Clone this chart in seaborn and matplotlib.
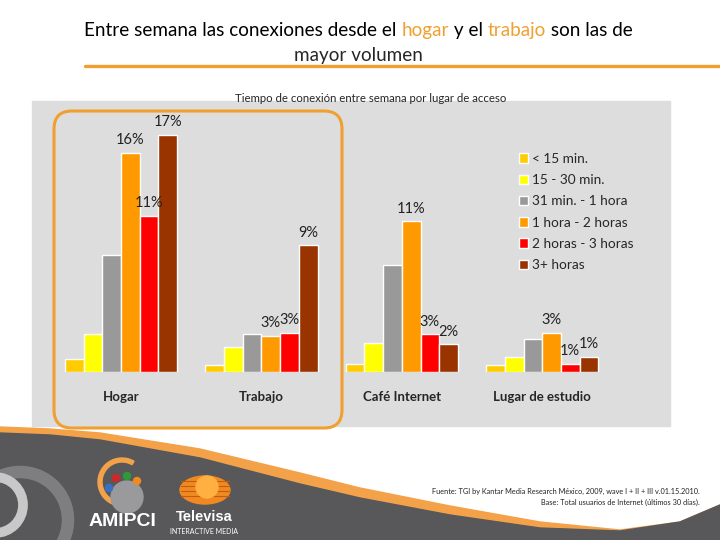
import numpy as np
import pandas as pd
import matplotlib
matplotlib.use("Agg")
import matplotlib.pyplot as plt
import seaborn as sns
from matplotlib.patches import Rectangle, FancyBboxPatch, Polygon, Circle, Ellipse, Wedge

# -------------------------------
# Data
# -------------------------------
lugares = ["Hogar", "Trabajo", "Café Internet", "Lugar de estudio"]
tiempos = ["< 15 min.", "15 - 30 min.", "31 min. - 1 hora",
           "1 hora - 2 horas", "2 horas - 3 horas", "3+ horas"]
menos_15 = [0.9, 0.5, 0.6, 0.5]
de_15_30 = [2.7, 1.8, 2.1, 1.1]
de_31_1h = [8.4, 2.7, 7.7, 2.4]
de_1h_2h = [15.7, 2.6, 10.8, 2.8]
de_2h_3h = [11.2, 2.8, 2.7, 0.6]
mas_3h = [17.0, 9.1, 2.0, 1.1]
colores = ["#FFCC00", "#FFFF00", "#999999", "#FF9900", "#FF0000", "#993300"]
con_etiqueta = ["1 hora - 2 horas", "2 horas - 3 horas", "3+ horas"]

titulo_partes = [("Entre semana las conexiones desde el ", "black"),
                 ("hogar", "#F0A030"), (" y el ", "black"),
                 ("trabajo", "#F0A030"), (" son las de", "black")]
subtitulo = "Tiempo de conexión entre semana por lugar de acceso"
fuente = ["Fuente: TGI by Kantar Media Research México, 2009, wave I + II + III v.01.15.2010.",
          "Base: Total usuarios de Internet (últimos 30 días)."]

series = [menos_15, de_15_30, de_31_1h, de_1h_2h, de_2h_3h, mas_3h]
df = pd.DataFrame({
    "lugar": np.repeat([lugares], len(tiempos), axis=0).ravel(),
    "tiempo": np.repeat(tiempos, len(lugares)),
    "valor": np.concatenate(series),
})

sns.set_style("white")
plt.rcParams["font.family"] = ["Lato", "DejaVu Sans"]

W, H = 720, 540
fig = plt.figure(figsize=(7.2, 5.4), dpi=100)

# -------------------------------
# Background / decorations in pixel coords
# -------------------------------
bg = fig.add_axes([0, 0, 1, 1])
bg.set_xlim(0, W)
bg.set_ylim(H, 0)
bg.axis("off")

bg.add_patch(Rectangle((32, 101), 638, 325, color="#DDDDDD", zorder=1))
bg.add_patch(FancyBboxPatch((54, 111), 288, 317,
                            boxstyle="round,pad=0,rounding_size=18",
                            fill=False, ec="#F0A030", lw=2.2, zorder=3))
bg.plot([85, 720], [66, 66], color="#F0A030", lw=2.4, zorder=2)

# footer wave
xs = [0, 50, 100, 200, 300, 360, 450, 540, 620, 680, 720]
top_or = [427, 429, 433, 449, 473, 488, 506, 522, 530, 522, 505]
top_dk = [433, 435, 440, 458, 484, 498, 515, 528, 531, 522, 505]
bg.add_patch(Polygon(list(zip(xs, top_or)) + [(720, 540), (0, 540)],
                     closed=True, color="#F4A24A", zorder=1))
bg.add_patch(Polygon(list(zip(xs, top_dk)) + [(720, 540), (0, 540)],
                     closed=True, color="#58585A", zorder=1))
bg.add_patch(Circle((20, 520), 48, fill=False, ec="#7E7E80", lw=9, zorder=2))
bg.add_patch(Circle((-5, 505), 28, fill=False, ec="#C8C8C8", lw=7, zorder=2))

# AMIPCI logo
bg.add_patch(Wedge((122, 482), 24, 40, 300, width=4, color="#F4A24A", zorder=2))
bg.add_patch(Circle((127, 497), 16, color="#9A9A9C", zorder=2))
for (cx, cy, c) in [(109, 488, "#3A6FC8"), (116, 478, "#D02828"),
                    (127, 476, "#2E9A3A"), (137, 481, "#F08A20")]:
    bg.add_patch(Circle((cx, cy), 3.5, color=c, zorder=3))
bg.text(122, 522, "AMIPCI", color="white", fontsize=14, fontweight="bold",
        ha="center", va="center", family="Liberation Sans", zorder=3)

# Televisa logo
bg.add_patch(Ellipse((205, 490), 50, 28, color="#F08A20", zorder=2))
for yy in [481, 486, 491, 496]:
    bg.plot([181, 229], [yy, yy], color="#C85A10", lw=0.8, zorder=3)
bg.add_patch(Circle((207, 487), 11, color="#FFB040", zorder=4))
bg.text(204, 517, "Televisa", color="white", fontsize=10.5, fontweight="bold",
        ha="center", va="center", family="Liberation Sans", zorder=3)
bg.text(204, 531, "INTERACTIVE MEDIA", color="white", fontsize=5,
        ha="center", va="center", zorder=3)

# footnotes
bg.text(700, 491, fuente[0], fontsize=5.3, ha="right", va="center", color="#222222")
bg.text(700, 502, fuente[1], fontsize=5.3, ha="right", va="center", color="#222222")

# -------------------------------
# Titles (first line has two words in orange)
# -------------------------------
prev = fig.text(84 / W, 1 - 36 / H, titulo_partes[0][0], color=titulo_partes[0][1],
                fontsize=13.6, va="baseline", ha="left")
for texto, color in titulo_partes[1:]:
    prev = fig.add_artist(matplotlib.text.Annotation(
        texto, xy=(1, 0), xycoords=prev, va="bottom", ha="left",
        color=color, fontsize=13.6))
fig.text(358 / W, 1 - 55 / H, "mayor volumen", fontsize=13.6, ha="center", va="center")
fig.text(371 / W, 1 - 99 / H, subtitulo, fontsize=8.2, ha="center", va="center")

# -------------------------------
# Bar chart
# -------------------------------
ax = fig.add_axes([32 / W, 1 - 372 / H, 638 / W, 272 / H])
ax.set_facecolor("none")
ax.set_zorder(5)
sns.barplot(data=df, x="lugar", y="valor", hue="tiempo", order=lugares,
            hue_order=tiempos, palette=colores, saturation=1, width=0.8,
            ax=ax)
ax.set_xlim(-0.634, 3.91)
ax.set_ylim(0, 19.5)
for nombre, cont in zip(tiempos, ax.containers):
    if nombre in con_etiqueta:
        ax.bar_label(cont, labels=[f"{round(v)}%" for v in cont.datavalues],
                     padding=4, fontsize=10.5, color="#222222")
ax.set_xlabel("")
ax.set_ylabel("")
ax.set_yticks([])
ax.tick_params(axis="x", length=0, pad=14)
for lbl in ax.get_xticklabels():
    lbl.set_fontweight("bold")
    lbl.set_fontsize(9.5)
sns.despine(ax=ax, left=True, bottom=True)

handles, labels = ax.get_legend_handles_labels()
ax.legend(handles, labels, loc="upper left", bbox_to_anchor=(512 / W, 1 - 146 / H),
          bbox_transform=fig.transFigure, frameon=False, fontsize=9.8,
          handlelength=0.7, handleheight=0.7, handletextpad=0.3,
          labelspacing=0.68, borderpad=0)

fig.savefig("out.png", dpi=100)
